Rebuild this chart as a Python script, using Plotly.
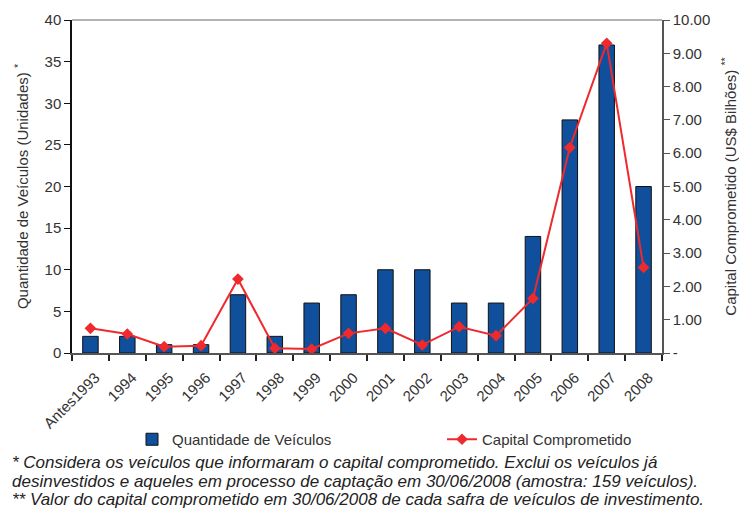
import plotly.graph_objects as go

categories = ["Antes1993", "1994", "1995", "1996", "1997", "1998", "1999", "2000",
              "2001", "2002", "2003", "2004", "2005", "2006", "2007", "2008"]
veiculos = [2, 2, 1, 1, 7, 2, 6, 7, 10, 10, 6, 6, 14, 28, 37, 20]
capital = [0.74, 0.57, 0.19, 0.22, 2.22, 0.14, 0.12, 0.59, 0.74, 0.24, 0.79, 0.52,
           1.64, 6.17, 9.30, 2.57]
left_ticks = [0, 5, 10, 15, 20, 25, 30, 35, 40]
right_ticks = [0, 1, 2, 3, 4, 5, 6, 7, 8, 9, 10]
right_labels = ["-", "1.00", "2.00", "3.00", "4.00", "5.00", "6.00", "7.00", "8.00", "9.00", "10.00"]
footnotes = [
    "* Considera os veículos que informaram o capital comprometido. Exclui os veículos já",
    "desinvestidos e aqueles em processo de captação em 30/06/2008 (amostra: 159 veículos).",
    "** Valor do capital comprometido em 30/06/2008 de cada safra de veículos de investimento.",
]

FONT = "Liberation Sans, Arial, sans-serif"
TXT = "#333333"
W, H = 739, 508
PL, PT, PR, PB = 72, 20, 662, 353   # plot area edges in page pixels
PW, PH = PR - PL, PB - PT

def px_x(p):
    return (p - PL) / PW

def px_y(p):
    return (PB - p) / PH

fig = go.Figure()
fig.add_trace(go.Bar(
    x=categories, y=veiculos, name="Quantidade de Veículos",
    marker=dict(color="#0f4f9c", line=dict(color="#111111", width=1)),
    yaxis="y", legend="legend",
))
fig.add_trace(go.Scatter(
    x=categories, y=capital, name="Capital Comprometido", mode="lines+markers",
    line=dict(color="#ee2a2e", width=2),
    marker=dict(symbol="diamond", size=9, color="#ee2a2e"),
    yaxis="y2", legend="legend2",
))

leg_common = dict(orientation="h", xanchor="left", yanchor="top",
                  font=dict(size=15, color=TXT), bgcolor="rgba(0,0,0,0)")

fig.update_layout(
    width=W, height=H,
    margin=dict(l=PL, r=W - PR, t=PT, b=H - PB, autoexpand=False),
    paper_bgcolor="white", plot_bgcolor="white",
    font=dict(family=FONT, size=15, color=TXT),
    bargap=0.58,
    showlegend=True,
    legend=dict(x=px_x(132), y=px_y(423), **leg_common),
    legend2=dict(x=px_x(442), y=px_y(423), **leg_common),
    xaxis=dict(
        type="category", range=[-0.5, len(categories) - 0.5],
        tickson="boundaries", ticks="outside", ticklen=6,
        tickcolor="#222222", tickwidth=1.5, tickangle=-45, automargin=False,
        ticklabelstandoff=8, ticklabelshift=5,
        showline=True, linecolor="#555555", linewidth=2,
        showgrid=False, tickfont=dict(size=15, color=TXT),
    ),
    yaxis=dict(
        range=[0, 40], tickvals=left_ticks, ticks="outside", ticklen=6, automargin=False,
        tickcolor="#111111", showline=True, linecolor="#111111", linewidth=1.5,
        showgrid=False, zeroline=False, tickfont=dict(size=15, color=TXT),
        title=dict(text="Quantidade de Veículos (Unidades) <sup>*</sup>",
                   font=dict(size=15, color=TXT), standoff=12),
    ),
    yaxis2=dict(
        range=[0, 10], tickvals=right_ticks, ticktext=right_labels, automargin=False,
        overlaying="y", side="right", ticks="outside", ticklen=6,
        tickcolor="#555555", showline=True, linecolor="#555555", linewidth=1.5,
        showgrid=False, zeroline=False, tickfont=dict(size=15, color=TXT),
        title=dict(text="Capital Comprometido (US$ Bilhões) <sup>**</sup>",
                   font=dict(size=15, color=TXT), standoff=16),
    ),
    shapes=[dict(type="line", xref="paper", yref="paper", x0=0, x1=1, y0=1, y1=1,
                 line=dict(color="#9a9a9a", width=1.5))],
)

for i, t in enumerate(footnotes):
    fig.add_annotation(
        text="<i>" + t + "</i>", xref="paper", yref="paper",
        x=px_x(10), xanchor="left",
        y=px_y(463 + 18 * i), yanchor="middle",
        showarrow=False, font=dict(size=17, color="#222222", family=FONT),
    )

fig.write_html(
    "out.html",
    config={"displayModeBar": False},
    post_script="document.body.style.margin='0px';document.body.style.overflow='hidden';",
)
